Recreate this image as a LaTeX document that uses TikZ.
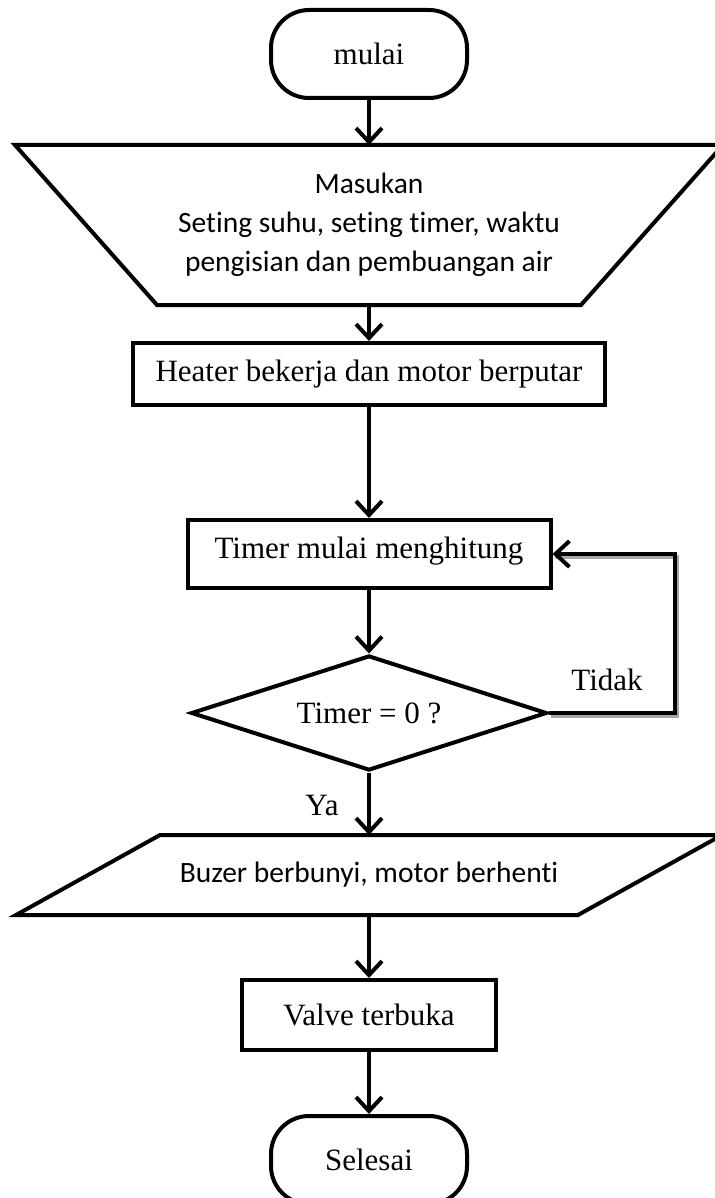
\documentclass[tikz,border=0pt]{standalone}
\usepackage{fontspec}
\setmainfont{Liberation Serif}
\newfontfamily\calibri[Ligatures={NoCommon}]{Carlito}
\usetikzlibrary{shapes.geometric,arrows.meta}

\tikzset{
	terminal/.style = {draw, rectangle, rounded corners=38pt, minimum width=196pt, minimum height=88pt},
	proses/.style   = {draw, rectangle},
	masuk/.style    = {rectangle, font=\calibri\fontsize{29.5}{39}\selectfont},
	kondisi/.style  = {draw, diamond, aspect=3},
	panah/.style    = {-{Straight Barb[length=14pt,width=26pt]}},
}

\begin{document}
\begin{tikzpicture}[x=1pt, y=-1pt, line width=4pt, font=\fontsize{31}{36}\selectfont]
	\useasboundingbox (0,0) rectangle (714,1198);

	\node (mulai) at (369,54) [terminal] {mulai};
	\node (masukan) at (369,225) [masuk, minimum width=420pt, minimum height=156pt, align=center] {
		Masukan\\ Seting suhu, seting timer, waktu\\ pengisian dan pembuangan air
	};
	\draw ([xshift=-142pt]masukan.north west) -- ([xshift=142pt]masukan.north east)
		-- (masukan.south east) -- (masukan.south west) -- cycle;
	\node (heater) at (369,374) [proses, minimum width=472pt, minimum height=62pt] {
		Heater bekerja dan motor berputar
	};
	\node (hitung) at (369,554) [proses, minimum width=363pt, minimum height=68pt, text depth=12pt] {
		Timer mulai menghitung
	};
	\node (cek) at (369,713) [kondisi, minimum width=356pt, minimum height=115pt] {
		Timer = 0 ?
	};
	\node (buzer) at (369,875) [masuk, minimum width=558pt, minimum height=76pt] {
		Buzer berbunyi, motor berhenti
	};
	\draw ([xshift=-72pt]buzer.south west) -- ([xshift=-72pt]buzer.south east)
		-- ([xshift=72pt]buzer.north east) -- ([xshift=72pt]buzer.north west) -- cycle;
	\node (valve) at (369,1015) [proses, minimum width=254pt, minimum height=70pt] {
		Valve terbuka
	};
	\node (selesai) at (369,1160) [terminal] {Selesai};

	\node (tidak) at (607,680) {Tidak};
	\node (ya) at (322,805) {Ya};

	\draw[panah] (mulai) -- (masukan);
	\draw[panah] (masukan) -- (heater);
	\draw[panah] (heater) -- (hitung);
	\draw[panah] (hitung) -- (cek);
	\draw[panah] (cek) -- (buzer);
	\draw[panah] (buzer) -- (valve);
	\draw[panah] (valve) -- (selesai);
	% jalur kembali, dengan bayangan abu-abu
	\draw[gray!70, transform canvas={xshift=2pt, yshift=-3pt}]
		(cek.east) -- ++(126,0) |- (hitung.east);
	\draw[panah] (cek.east) -- ++(126,0) |- (hitung.east);
\end{tikzpicture}
\end{document}
